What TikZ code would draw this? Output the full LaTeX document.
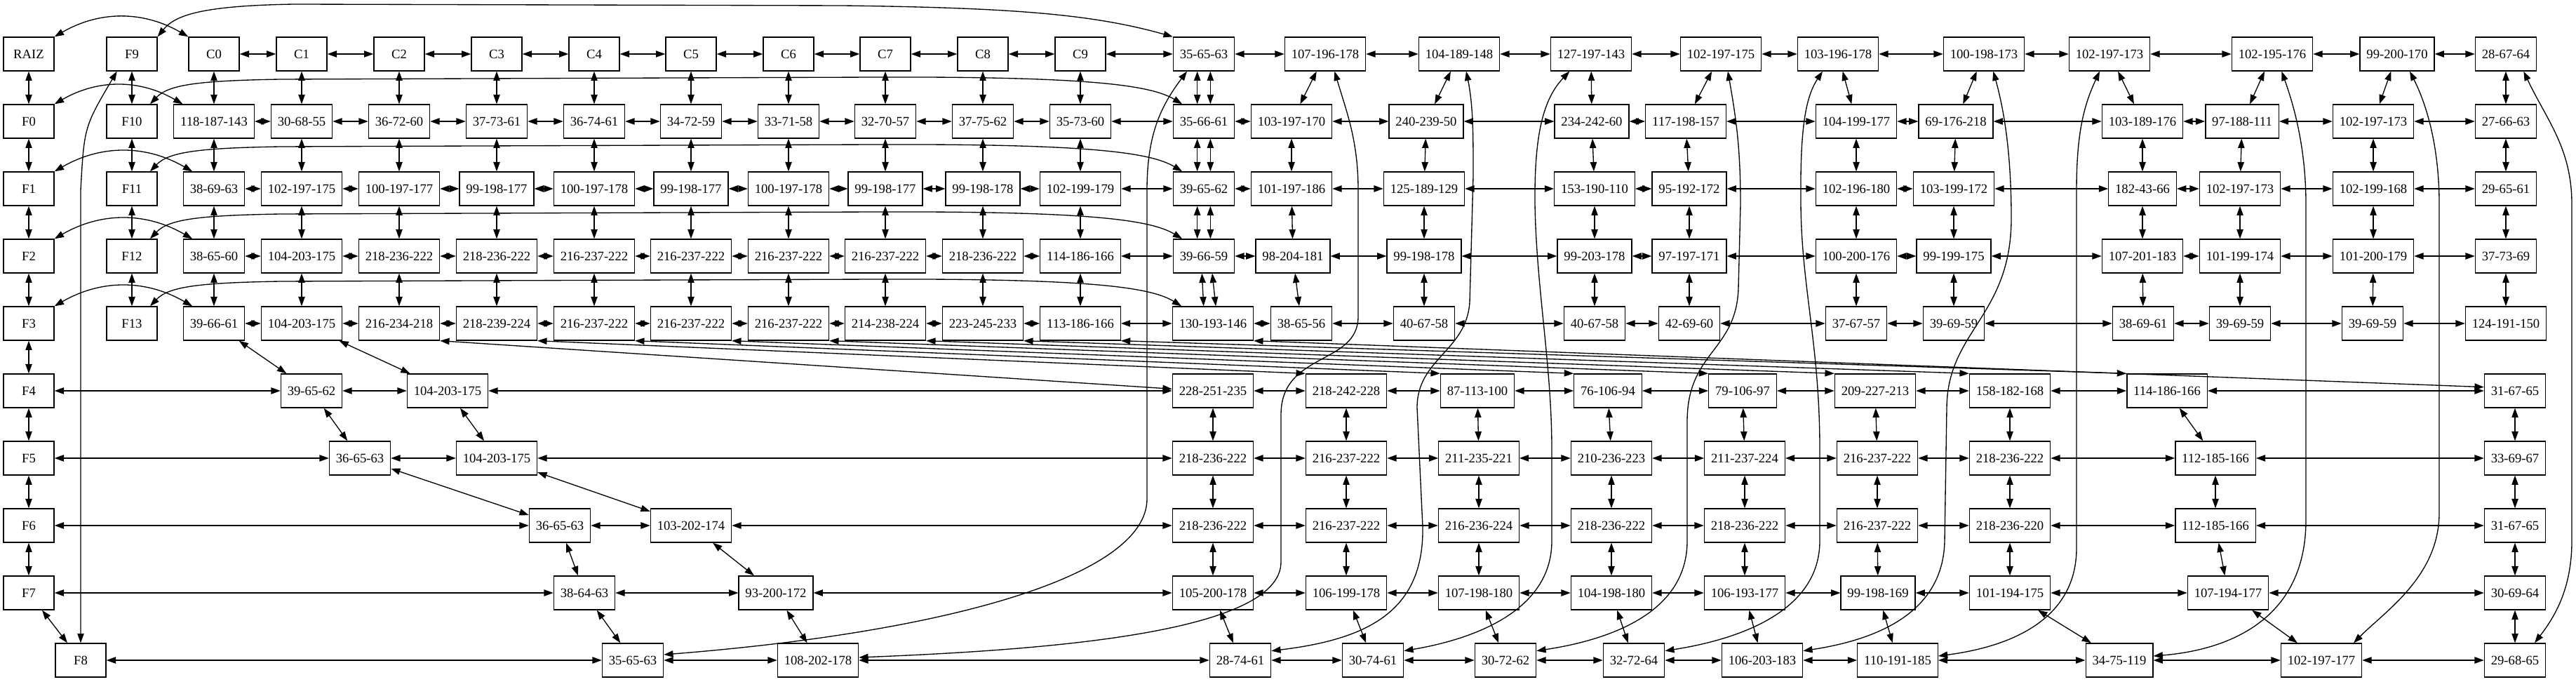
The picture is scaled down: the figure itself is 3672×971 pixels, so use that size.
\documentclass[tikz,border=0pt]{standalone}
\usepackage{fontspec}
\setmainfont{Liberation Serif}
\usetikzlibrary{arrows.meta}

\tikzset{
  cell/.style={draw, rectangle, line width=1pt, minimum width=54pt, minimum height=36pt,
    inner xsep=7pt, inner ysep=0pt, font=\fontsize{14}{16}\selectfont},
  link/.style={<->, >={Triangle[length=10pt, width=7pt]}, line width=1pt}
}

\begin{document}
\begin{tikzpicture}[x=0.75pt, y=0.75pt]
  \fill[white] (0,0) rectangle (3672,971);
  \useasboundingbox (0,0) rectangle (3672,971);

  % headers
  \node[cell] (raiz) at (41,894) {RAIZ};
  \node[cell] (f9) at (188,894) {F9};
  \foreach \x [count=\i from 0] in {305,430,569,708,847,985,1124,1262,1401,1540}
    \node[cell] (c\i) at (\x,894) {C\i};
  \foreach \i/\yy in {0/798,1/702,2/606,3/510,4/414,5/318,6/222,7/126}
    \node[cell] (f\i) at (41,\yy) {F\i};
  \node[cell] (f8) at (115,30) {F8};
  \foreach \i/\yy in {10/798,11/702,12/606,13/510}
    \node[cell] (f\i) at (188,\yy) {F\i};

  % cells
  \foreach \x/\lab [count=\i from 10] in {1716/35-65-63, 1889/107-196-178, 2080/104-189-148,
      2268/127-197-143, 2453/102-197-175, 2620/103-196-178, 2828/100-198-173, 3007/102-197-173,
      3239/102-195-176, 3417/99-200-170, 3572/28-67-64}
    \node[cell] (p0x\i) at (\x,894) {\lab};
  \foreach \x/\lab [count=\i from 0] in {305/118-187-143, 430/30-68-55, 569/36-72-60, 708/37-73-61,
      847/36-74-61, 985/34-72-59, 1124/33-71-58, 1262/32-70-57, 1401/37-75-62, 1540/35-73-60,
      1716/35-66-61, 1841/103-197-170, 2033/240-239-50, 2269/234-242-60, 2403/117-198-157,
      2646/104-199-177, 2788/69-176-218, 3054/103-189-176, 3196/97-188-111, 3383/102-197-173,
      3572/27-66-63}
    \node[cell] (p1x\i) at (\x,798) {\lab};
  \foreach \x/\lab [count=\i from 0] in {305/38-69-63, 430/102-197-175, 569/100-197-177, 708/99-198-177,
      847/100-197-178, 985/99-198-177, 1124/100-197-178, 1262/99-198-177, 1401/99-198-178,
      1540/102-199-179, 1716/39-65-62, 1841/101-197-186, 2030/125-189-129, 2273/153-190-110,
      2408/95-192-172, 2646/102-196-180, 2785/103-199-172, 3054/182-43-66, 3193/102-197-173,
      3383/102-199-168, 3572/29-65-61}
    \node[cell] (p2x\i) at (\x,702) {\lab};
  \foreach \x/\lab [count=\i from 0] in {305/38-65-60, 430/104-203-175, 569/218-236-222, 708/218-236-222,
      847/216-237-222, 985/216-237-222, 1124/216-237-222, 1262/216-237-222, 1401/218-236-222,
      1540/114-186-166, 1716/39-66-59, 1843/98-204-181, 2030/99-198-178, 2273/99-203-178,
      2408/97-197-171, 2646/100-200-176, 2785/99-199-175, 3054/107-201-183, 3193/101-199-174,
      3383/101-200-179, 3572/37-73-69}
    \node[cell] (p3x\i) at (\x,606) {\lab};
  \foreach \x/\lab [count=\i from 0] in {305/39-66-61, 430/104-203-175, 569/216-234-218, 708/218-239-224,
      847/216-237-222, 985/216-237-222, 1124/216-237-222, 1262/214-238-224, 1401/223-245-233,
      1540/113-186-166, 1729/130-193-146, 1855/38-65-56, 2030/40-67-58, 2273/40-67-58,
      2408/42-69-60, 2646/37-67-57, 2785/39-69-59, 3055/38-69-61, 3193/39-69-59,
      3382/39-69-59, 3572/124-191-150}
    \node[cell] (p4x\i) at (\x,510) {\lab};
  \foreach \x/\lab [count=\i from 0] in {444/39-65-62, 638/104-203-175, 1729/228-251-235, 1919/218-242-228,
      2106/87-113-100, 2292/76-106-94, 2484/79-106-97, 2673/209-227-213, 2865/158-182-168,
      3089/114-186-166, 3585/31-67-65}
    \node[cell] (p5x\i) at (\x,414) {\lab};
  \foreach \x/\lab [count=\i from 0] in {513/36-65-63, 708/104-203-175, 1729/218-236-222, 1919/216-237-222,
      2108/211-235-221, 2297/210-236-223, 2487/211-237-224, 2676/216-237-222, 2865/218-236-222,
      3158/112-185-166, 3585/33-69-67}
    \node[cell] (p6x\i) at (\x,318) {\lab};
  \foreach \x/\lab [count=\i from 0] in {798/36-65-63, 985/103-202-174, 1729/218-236-222, 1919/216-237-222,
      2108/216-236-224, 2297/218-236-222, 2487/218-236-222, 2676/216-237-222, 2865/218-236-220,
      3158/112-185-166, 3585/31-67-65}
    \node[cell] (p7x\i) at (\x,222) {\lab};
  \foreach \x/\lab [count=\i from 0] in {833/38-64-63, 1106/93-200-172, 1729/105-200-178, 1919/106-199-178,
      2108/107-198-180, 2297/104-198-180, 2487/106-193-177, 2677/99-198-169, 2865/101-194-175,
      3176/107-194-177, 3585/30-69-64}
    \node[cell] (p8x\i) at (\x,126) {\lab};
  \foreach \x/\lab [count=\i from 0] in {902/35-65-63, 1166/108-202-178, 1768/28-74-61, 1957/30-74-61,
      2146/30-72-62, 2329/32-72-64, 2512/106-203-183, 2705/110-191-185, 3021/34-75-119,
      3309/102-197-177, 3585/29-68-65}
    \node[cell] (p9x\i) at (\x,30) {\lab};

  % header links
  \draw[link] (raiz) -- (f0);
  \foreach \i in {0,...,7} {
    \pgfmathtruncatemacro{\nx}{\i+1}
    \draw[link] (f\i) -- (f\nx);
  }
  \foreach \i in {9,...,12} {
    \pgfmathtruncatemacro{\nx}{\i+1}
    \draw[link] (f\i) -- (f\nx);
  }
  \foreach \i in {0,...,8} {
    \pgfmathtruncatemacro{\nx}{\i+1}
    \draw[link] (c\i) -- (c\nx);
  }
  \draw[link] (c9) -- (p0x10);
  \foreach \i in {0,...,9}
    \draw[link] (c\i) -- (p1x\i);
  \draw[link] (raiz.north east) to[out=30,in=150] (c0.north west);
  \draw[link] (f9.north east) .. controls (250,950) and (290,963) .. (420,965)
    -- (1200,963) .. controls (1450,960) and (1560,950) .. (p0x10.north west);
  \draw[link] ([xshift=-16pt]f9.south) .. controls (120,790) .. (115,700) -- (f8.north);
  \foreach \rw in {1,...,4} {
    \pgfmathtruncatemacro{\fa}{\rw-1}
    \pgfmathtruncatemacro{\fb}{\rw+9}
    \pgfmathtruncatemacro{\yy}{96*(\rw-1)}
    \draw[link] (f\fa.north east) to[out=30,in=150] ([xshift=10pt]p\rw x0.north west);
    \draw[link] ([xshift=-8pt]f\fb.north east) .. controls (240,850-\yy) and (280,856-\yy) .. (400,858-\yy)
      -- (1250,861-\yy) .. controls (1550,862-\yy) and (1640,850-\yy) .. ([xshift=10pt]p\rw x10.north west);
  }
  \foreach \rw in {5,...,9} {
    \pgfmathtruncatemacro{\fa}{\rw-1}
    \draw[link] (f\fa) -- (p\rw x0);
  }

  % row links
  \foreach \i in {10,...,19} {
    \pgfmathtruncatemacro{\nx}{\i+1}
    \draw[link] (p0x\i) -- (p0x\nx);
  }
  \foreach \rw in {1,...,4} {
    \foreach \i in {0,...,19} {
      \pgfmathtruncatemacro{\nx}{\i+1}
      \draw[link] (p\rw x\i) -- (p\rw x\nx);
    }
  }
  \foreach \rw in {5,...,9} {
    \foreach \i in {0,...,9} {
      \pgfmathtruncatemacro{\nx}{\i+1}
      \draw[link] (p\rw x\i) -- (p\rw x\nx);
    }
  }

  % column links
  \foreach \i in {11,...,20}
    \draw[link] (p0x\i) -- (p1x\i);
  \foreach \rw in {1,2,3} {
    \pgfmathtruncatemacro{\rv}{\rw+1}
    \foreach \i in {0,...,9}
      \draw[link] (p\rw x\i) -- (p\rv x\i);
    \foreach \i in {11,...,20}
      \draw[link] (p\rw x\i) -- (p\rv x\i);
  }
  \foreach \rw in {0,1,2} {
    \pgfmathtruncatemacro{\rv}{\rw+1}
    \draw[link] ([xshift=-7pt]p\rw x10.south) -- ([xshift=-7pt]p\rv x10.north);
    \draw[link] ([xshift=7pt]p\rw x10.south) -- ([xshift=7pt]p\rv x10.north);
  }
  \draw[link] ([xshift=-2pt]p3x10.south) -- ([xshift=-10pt]p4x10.north);
  \draw[link] ([xshift=9pt]p3x10.south) -- ([xshift=3pt]p4x10.north);
  \draw[link] (p4x0) -- (p5x0);
  \draw[link] (p4x1) -- (p5x1);
  \draw[link] (p4x2.south east) -- ([yshift=2pt]p5x2.west);
  \foreach \i in {3,...,9}
    \draw[link] (p4x\i.south east) -- (p5x\i.north west);
  \draw[link] (p4x10.south east) -- ([yshift=4pt]p5x10.west);
  \foreach \rw in {5,...,8} {
    \pgfmathtruncatemacro{\rv}{\rw+1}
    \foreach \i in {0,...,10}
      \draw[link] (p\rw x\i) -- (p\rv x\i);
  }

  % wrap-around links, top row to bottom row
  \draw[link] ([xshift=-18pt]p0x10.south) .. controls (1655,820) and (1635,780) .. (1635,700)
    -- (1635,260) .. controls (1635,150) and (1350,70) .. ([yshift=6pt]p9x0.east);
  \draw[link] ([xshift=10pt]p0x11.south) .. controls (1920,810) and (1936,770) .. (1936,700)
    -- (1936,520) .. controls (1936,450) and (1826,470) .. (1826,380)
    -- (1826,170) .. controls (1826,70) and (1500,45) .. ([yshift=3pt]p9x1.east);
  \draw[link] ([xshift=7.5pt]p0x12.south) .. controls (2100,820) and (2100,780) .. (2100,720)
    -- (2095,540) .. controls (2090,470) and (2020,460) .. (2020,390)
    -- (2028,220) .. controls (2030,100) and (1950,60) .. ([yshift=10pt]p9x2.east);
  \draw[link] ([xshift=-23pt]p0x13.south) .. controls (2200,830) and (2187,780) .. (2188,680)
    .. controls (2190,560) and (2212,450) .. (2212,330)
    -- (2212,200) .. controls (2212,100) and (2100,60) .. ([yshift=10pt]p9x3.east);
  \draw[link] ([xshift=7.5pt]p0x14.south) .. controls (2475,800) and (2481,760) .. (2481,680)
    -- (2478,560) .. controls (2475,470) and (2405,470) .. (2405,370)
    -- (2405,200) .. controls (2405,100) and (2300,60) .. ([yshift=10pt]p9x4.east);
  \draw[link] ([xshift=-16.5pt]p0x15.south) .. controls (2572,830) and (2566,780) .. (2567,680)
    .. controls (2568,560) and (2594,480) .. (2594,330)
    -- (2594,200) .. controls (2594,100) and (2480,60) .. ([yshift=10pt]p9x5.east);
  \draw[link] ([xshift=10pt]p0x16.south) .. controls (2855,820) and (2867,760) .. (2867,660)
    .. controls (2867,520) and (2776,500) .. (2775,390)
    -- (2772,200) .. controls (2770,100) and (2680,60) .. ([yshift=10pt]p9x6.east);
  \draw[link] ([xshift=-10.5pt]p0x17.south) .. controls (2970,820) and (2960,780) .. (2960,700)
    -- (2960,190) .. controls (2960,90) and (2870,50) .. ([yshift=4.5pt]p9x7.east);
  \draw[link] ([xshift=10pt]p0x18.south) .. controls (3270,820) and (3287,760) .. (3287,680)
    -- (3287,230) .. controls (3287,90) and (3180,45) .. ([yshift=4.5pt]p9x8.east);
  \draw[link] ([xshift=13.5pt]p0x19.south) .. controls (3460,820) and (3477,760) .. (3477,680)
    -- (3477,240) .. controls (3477,150) and (3400,100) .. ([xshift=34.5pt]p9x9.north);
  \draw[link] ([xshift=19pt]p0x20.south) .. controls (3630,800) and (3666,760) .. (3666,680)
    -- (3666,200) .. controls (3666,130) and (3640,90) .. ([xshift=21pt]p9x10.north);
\end{tikzpicture}
\end{document}
